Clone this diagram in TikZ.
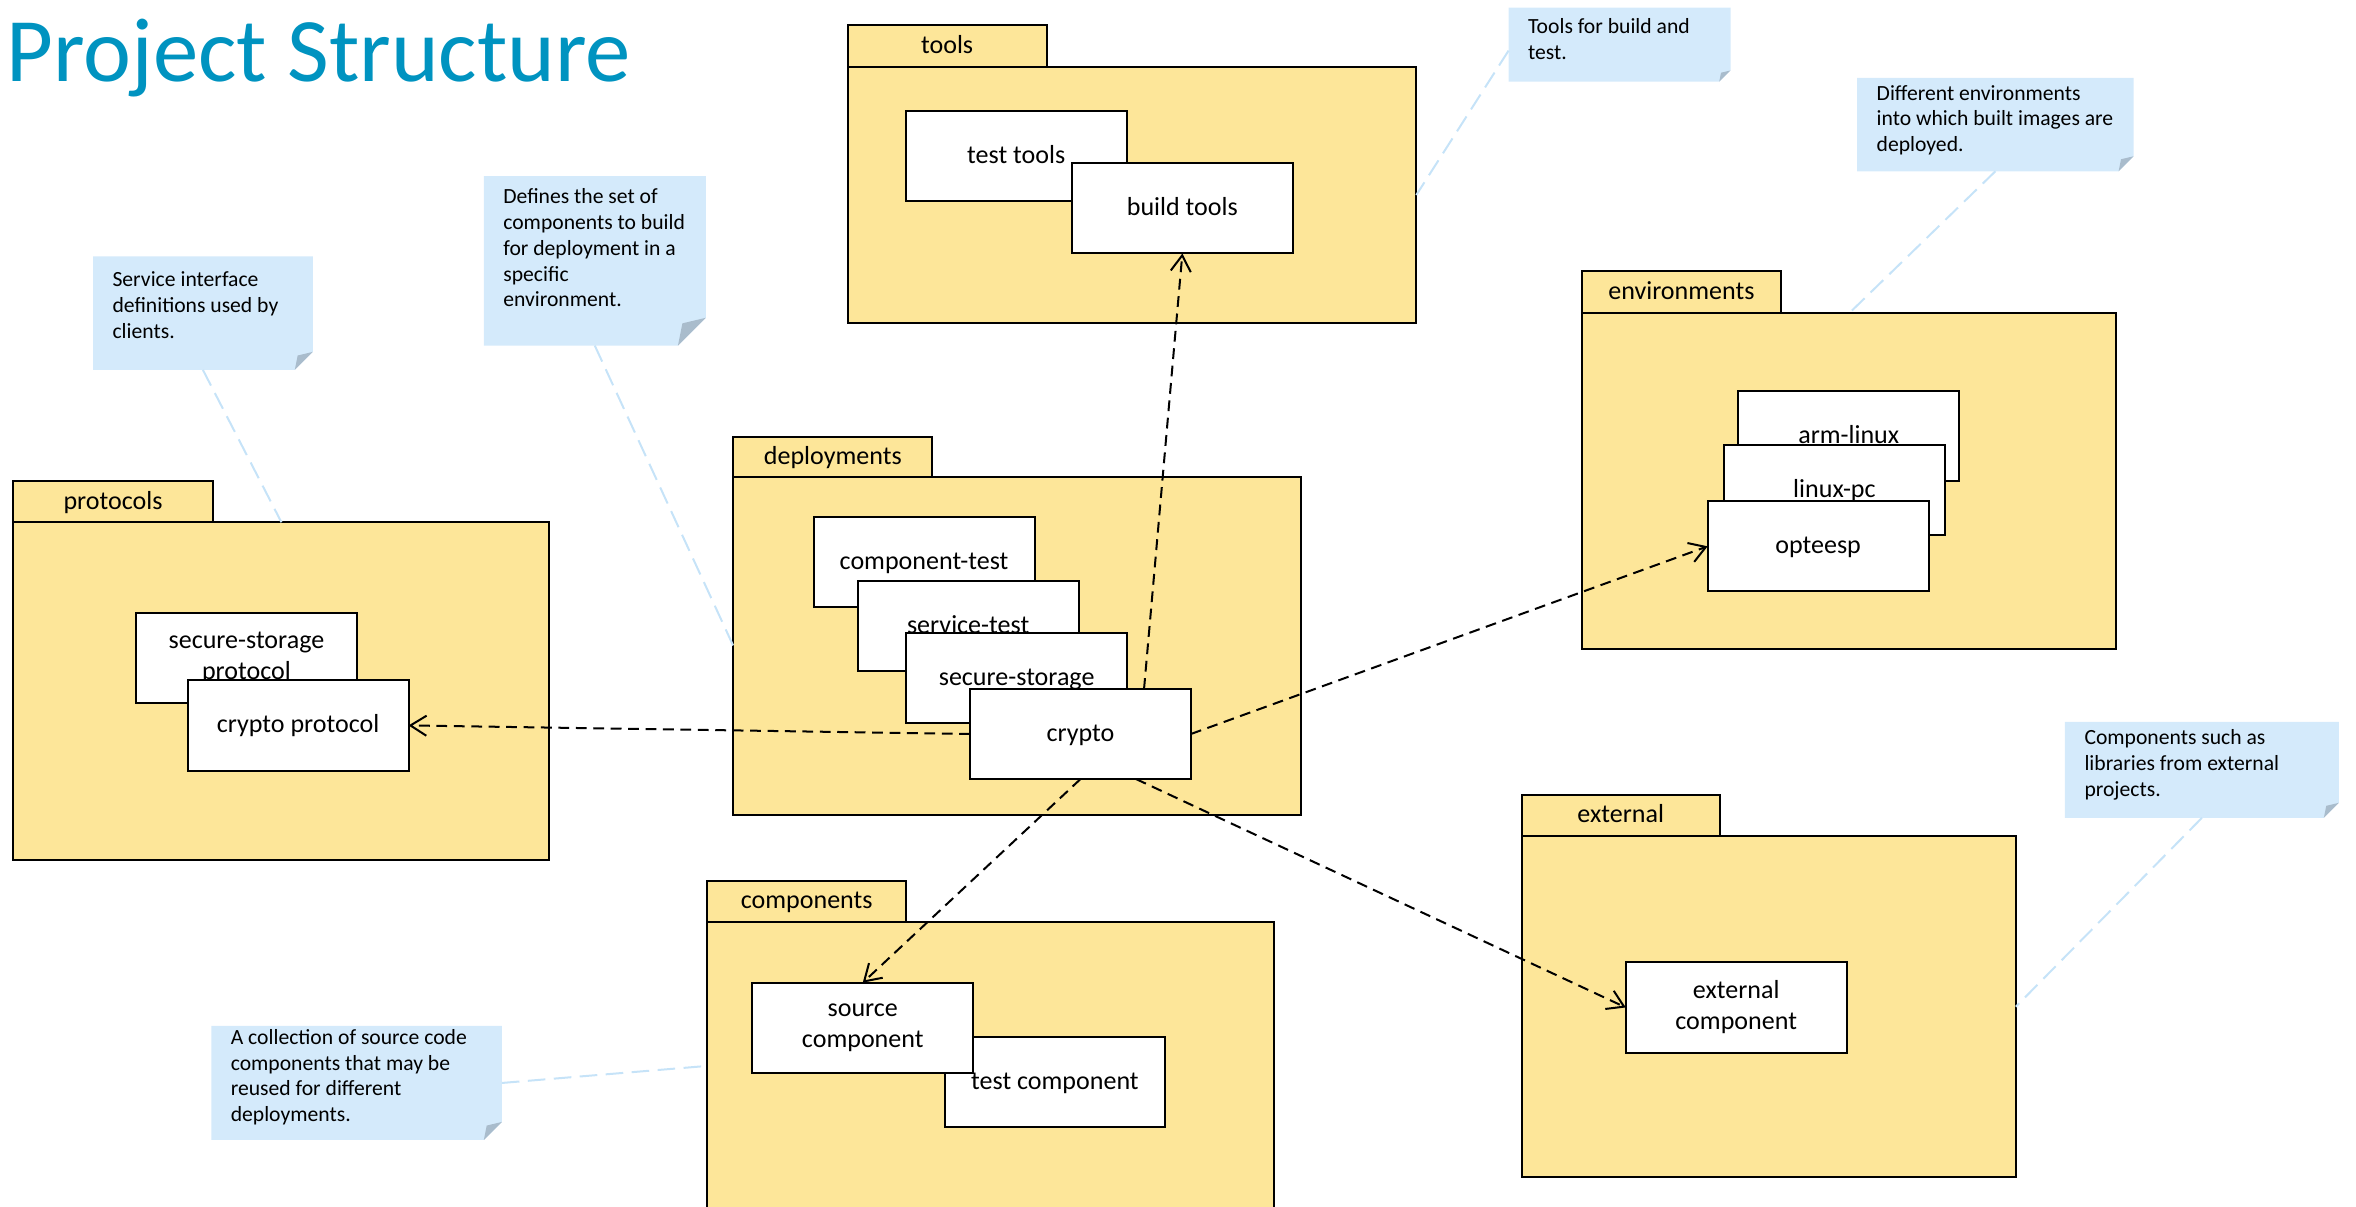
\documentclass[tikz,border=0pt]{standalone}
\usepackage{fontspec}
\setmainfont{Carlito}
\usetikzlibrary{arrows.meta,calc}
\definecolor{pkgfill}{HTML}{FDE699}
\definecolor{notefill}{HTML}{D4EAFB}
\definecolor{flapcol}{HTML}{A9BCCC}
\definecolor{notelink}{HTML}{C6E3F8}
\definecolor{titleblue}{HTML}{0093C0}
\newdimen\un \un=0.75pt
\newcommand\notetext[4]{\parbox[t][#2\un][t]{#1\un}{\raggedright\leftskip=13\un\relax\vspace*{\dimexpr #3\un-12pt\relax}\rule{0pt}{12pt}#4}}
\begin{document}
\begin{tikzpicture}[x=0.75pt,y=-0.75pt,
  sz/.style 2 args={minimum width=#1*0.75pt, minimum height=#2*0.75pt},
  pkgbody/.style={draw=black, fill=pkgfill, line width=1pt, inner sep=0pt, outer sep=0pt, anchor=north west},
  pkgtab/.style={pkgbody, font=\fontsize{13}{15.5}\selectfont, text height=9.75pt, text depth=2.25pt},
  comp/.style={draw=black, fill=white, line width=1pt, inner sep=0pt, outer sep=0pt, anchor=north west,
    font=\fontsize{13}{15.5}\selectfont, align=center, minimum width=147*0.75pt, minimum height=60*0.75pt},
  comp1/.style={comp, text height=9.75pt, text depth=2.25pt},
  note/.style={inner sep=0pt, outer sep=0pt, anchor=north west, fill=white, font=\fontsize{10.8}{12.9}\selectfont,
    path picture={
      \fill[notefill] (path picture bounding box.north west) -- (path picture bounding box.north east)
        -- ($(path picture bounding box.south east)+(0,-#1)$) -- ($(path picture bounding box.south east)+(-#1,0)$)
        -- (path picture bounding box.south west) -- cycle;
      \fill[flapcol] ($(path picture bounding box.south east)+(0,-#1)$)
        -- ($(path picture bounding box.south east)+(-0.84*#1,-0.8*#1)$)
        -- ($(path picture bounding box.south east)+(-#1,0)$) -- cycle;}},
  notelinkst/.style={draw=notelink, line width=1pt, dash pattern=on 8.8pt off 4.2pt},
  dep/.style={draw=black, line width=1pt, dash pattern=on 5.4pt off 3.3pt, -{Straight Barb[length=8pt,width=10pt]}}
]
\useasboundingbox (0,0) rectangle (1568,803.3);
\node[anchor=base west, inner sep=0pt, text=titleblue, font=\fontsize{45.3}{54}\selectfont] (title) at (4,54.4) {Project Structure};

% tools
\node[pkgbody, sz={378.5}{170.8}] (toolsbody) at (564.1,44.4) {};
\node[pkgtab, sz={132.5}{28}] (toolstab) at (564.1,16.4) {tools};
\node[comp1] (testtools) at (602.8,73.7) {test tools};
\node[comp1] (buildtools) at (713.4,108.7) {build tools};

% environments
\node[pkgbody, sz={355.7}{223.7}] (envbody) at (1052.8,208.5) {};
\node[pkgtab, sz={132.4}{28.2}] (envtab) at (1052.8,180.3) {environments};
\node[comp1] (armlinux) at (1156.9,260.4) {arm-linux};
\node[comp1] (linuxpc) at (1147.4,296.3) {linux-pc};
\node[comp1] (opteesp) at (1136.5,333.6) {opteesp};

% deployments
\node[pkgbody, sz={377.8}{225.2}] (depbody) at (488,317.2) {};
\node[pkgtab, sz={132.5}{26.6}] (deptab) at (488,290.6) {deployments};
\node[comp1] (comptest) at (541.5,343.9) {component-test};
\node[comp1] (servtest) at (570.8,386.7) {service-test};
\node[comp1] (secstor) at (603.1,421.3) {secure-storage};
\node[comp1] (crypto) at (645.6,458.5) {crypto};

% protocols
\node[pkgbody, sz={356.8}{225}] (protbody) at (8.9,347.6) {};
\node[pkgtab, sz={132.6}{27.6}] (prottab) at (8.9,320) {protocols};
\node[comp] (ssprot) at (90.5,407.7) {secure-storage\\protocol};
\node[comp1] (cprot) at (124.9,452.8) {crypto protocol};

% components
\node[pkgbody, sz={377.3}{195}] (compbody) at (470.8,613.8) {};
\node[pkgtab, sz={132.2}{27.7}] (comptab) at (470.8,586.1) {components};
\node[comp1] (testcomp) at (628.6,689.9) {test component};
\node[comp] (srccomp) at (500.7,654) {source\\component};

% external
\node[pkgbody, sz={328.9}{226.8}] (extbody) at (1012.7,556.6) {};
\node[pkgtab, sz={131.9}{27.8}] (exttab) at (1012.7,528.8) {external};
\node[comp] (extcomp) at (1082,640.5) {external\\component};

% notes
\node[note=12] (nserv) at (61.9,170.7) {\notetext{146.3}{75.5}{19.9}{Service interface\\definitions used by\\clients.}};
\node[note=18.5] (ndef) at (322,117.3) {\notetext{147.7}{112.7}{18.2}{Defines the set of\\components to build\\for deployment in a\\specific\\environment.}};
\node[note=7.5] (ntools) at (1004,5) {\notetext{147.7}{49.4}{17.6}{Tools for build and\\test.}};
\node[note=10] (nenv) at (1236,51.9) {\notetext{184}{62.1}{14.7}{Different environments\\into which built images are\\deployed.}};
\node[note=12] (ncoll) at (140.6,682.8) {\notetext{193.4}{75.9}{12.2}{A collection of source code\\components that may be\\reused for different\\deployments.}};
\node[note=10] (ncomps) at (1374.3,480.5) {\notetext{182.3}{63.8}{15.2}{Components such as\\libraries from external\\projects.}};

% note links
\draw[notelinkst] (nserv.south) -- (protbody.north);
\draw[notelinkst] (ndef.south) -- (depbody.west);
\draw[notelinkst] ($(ntools.west)+(0,4)$) -- (toolsbody.east);
\draw[notelinkst] (nenv.south) -- (envbody.north);
\draw[notelinkst] (ncoll.east) -- ($(compbody.north west)+(0,95.6)$);
\draw[notelinkst] (ncomps.south) -- (extbody.east);

% dependencies
\draw[dep] ($(crypto.north)+(42.3,0)$) -- (buildtools.south);
\draw[dep] (crypto.west) -- (cprot.east);
\draw[dep] (crypto.east) -- (opteesp.west);
\draw[dep] (crypto.south) -- (srccomp.north);
\draw[dep] ($(crypto.south)+(37,0)$) -- (extcomp.west);
\end{tikzpicture}
\end{document}
